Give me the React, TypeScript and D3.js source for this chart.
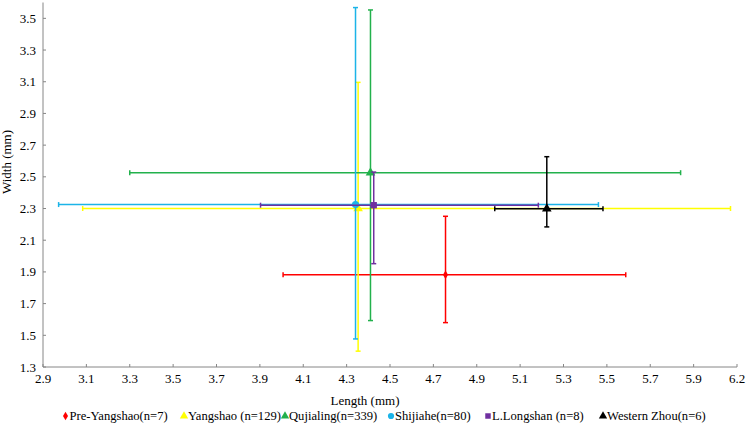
import React from "react";
import * as d3 from "d3";

const groups = ["Pre-Yangshao(n=7)", "Yangshao (n=129)", "Qujialing(n=339)", "Shijiahe(n=80)", "L.Longshan (n=8)", "Western Zhou(n=6)"];
const colors = ["#FF0000", "#FFFF00", "#22B14C", "#1CB4E8", "#7030A0", "#000000"];
const markers = ["diamond", "triangle", "triangle", "circle", "square", "triangle"];
const lengthMean = [4.756, 4.353, 4.41, 4.341, 4.425, 5.223];
const lengthLow = [4.007, 3.083, 3.30, 2.972, 3.903, 4.983];
const lengthHigh = [5.587, 6.07, 5.84, 5.461, 5.184, 5.482];
const widthMean = [1.882, 2.30, 2.526, 2.325, 2.321, 2.298];
const widthLow = [1.58, 1.40, 1.593, 1.477, 1.952, 2.184];
const widthHigh = [2.251, 3.096, 3.553, 3.568, 2.53, 2.627];
const xTickValues = [2.9, 3.1, 3.3, 3.5, 3.7, 3.9, 4.1, 4.3, 4.5, 4.7, 4.9, 5.1, 5.3, 5.5, 5.7, 5.9, 6.1];
const xTickLabels = ["2.9", "3.1", "3.3", "3.5", "3.7", "3.9", "4.1", "4.3", "4.5", "4.7", "4.9", "5.1", "5.3", "5.5", "5.7", "5.9", "6.2"];
const yTickValues = [1.3, 1.5, 1.7, 1.9, 2.1, 2.3, 2.5, 2.7, 2.9, 3.1, 3.3, 3.5];
const yTickLabels = ["1.3", "1.5", "1.7", "1.9", "2.1", "2.3", "2.5", "2.7", "2.9", "3.1", "3.3", "3.5"];
const legendX = [65.5, 184, 285, 391, 488, 603];

const W = 746, H = 425;
const FONT = "Times New Roman, Liberation Serif, serif";

function Marker({ type, x, y, color, size }: { type: string; x: number; y: number; color: string; size: number }) {
  const sym = type === "diamond" ? d3.symbolDiamond : type === "triangle" ? d3.symbolTriangle : type === "circle" ? d3.symbolCircle : d3.symbolSquare;
  const path = d3.symbol().type(sym).size(size)() as string;
  return <path d={path} transform={`translate(${x},${y})`} fill={color} />;
}

export default function App() {
  const x = d3.scaleLinear().domain([2.9, 6.1]).range([43, 737]);
  const y = d3.scaleLinear().domain([1.3, 3.6]).range([367, 2.5]);
  const axisColor = "#868686";
  const cap = 2.5;
  return (
    <svg width={W} height={H} style={{ position: "absolute", left: 0, top: 0, background: "#fff" }} fontFamily={FONT} fontSize={13}>
      <rect width={W} height={H} fill="#fff" />
      <line x1={x(2.9)} x2={x(2.9)} y1={y(3.6)} y2={y(1.3)} stroke={axisColor} strokeWidth={1} />
      <line x1={x(2.9)} x2={x(6.1)} y1={y(1.3)} y2={y(1.3)} stroke={axisColor} strokeWidth={1} />
      {yTickValues.map((v, i) => (
        <g key={"y" + i}>
          <line x1={x(2.9)} x2={x(2.9) + 3} y1={y(v)} y2={y(v)} stroke={axisColor} />
          <text x={36} y={y(v)} dy="0.35em" textAnchor="end" fill="#000">{yTickLabels[i]}</text>
        </g>
      ))}
      {xTickValues.map((v, i) => (
        <g key={"x" + i}>
          <line x1={x(v)} x2={x(v)} y1={y(1.3)} y2={y(1.3) - 3} stroke={axisColor} />
          <text x={x(v)} y={378} dy="0.35em" textAnchor="middle" fill="#000">{xTickLabels[i]}</text>
        </g>
      ))}
      <text x={365} y={400} dy="0.35em" textAnchor="middle" fill="#000">Length (mm)</text>
      <text transform={`translate(6,162) rotate(-90)`} dy="0.35em" textAnchor="middle" fill="#000">Width (mm)</text>
      {groups.map((g, i) => {
        const c = colors[i];
        const cx = x(lengthMean[i]);
        const cy = y(widthMean[i]);
        return (
          <g key={g}>
            <line x1={x(lengthLow[i])} x2={x(lengthHigh[i])} y1={cy} y2={cy} stroke={c} strokeWidth={1.5} />
            <line x1={x(lengthLow[i])} x2={x(lengthLow[i])} y1={cy - cap} y2={cy + cap} stroke={c} strokeWidth={1.5} />
            <line x1={x(lengthHigh[i])} x2={x(lengthHigh[i])} y1={cy - cap} y2={cy + cap} stroke={c} strokeWidth={1.5} />
            <line x1={cx} x2={cx} y1={y(widthLow[i])} y2={y(widthHigh[i])} stroke={c} strokeWidth={1.5} />
            <line x1={cx - cap} x2={cx + cap} y1={y(widthLow[i])} y2={y(widthLow[i])} stroke={c} strokeWidth={1.5} />
            <line x1={cx - cap} x2={cx + cap} y1={y(widthHigh[i])} y2={y(widthHigh[i])} stroke={c} strokeWidth={1.5} />
            <Marker type={markers[i]} x={cx} y={cy} color={c} size={markers[i] === "diamond" ? 22 : 40} />
          </g>
        );
      })}
      {groups.map((g, i) => (
        <g key={"l" + i}>
          <Marker type={markers[i]} x={legendX[i]} y={416} color={colors[i]} size={markers[i] === "diamond" ? 22 : 30} />
          <text x={legendX[i] + 4} y={416} dy="0.35em" fontSize={12.6} fill="#000">{g}</text>
        </g>
      ))}
    </svg>
  );
}
